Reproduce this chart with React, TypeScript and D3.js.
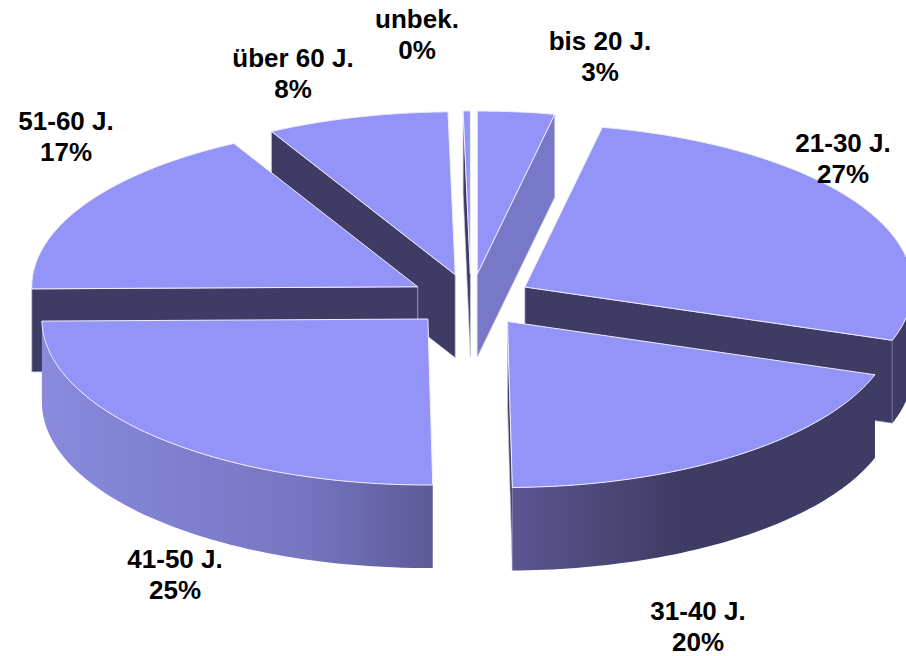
import React from 'react';
import * as d3 from 'd3';

const ageGroups = ['bis 20 J.', '21-30 J.', '31-40 J.', '41-50 J.', '51-60 J.', 'über 60 J.', 'unbek.'];
const shares = [3.2, 27, 19.6, 25, 17.3, 7.6, 0.3];

const W = 906;
const H = 656;
const DEPTH = 83;
const EXPLODE = 0.16;
const FONT = '"Liberation Sans", Arial, sans-serif';

// where the captions sit (middle, first baseline)
const labelSpots = [[600, 50], [843, 152], [698, 620], [175, 568], [66, 130], [293, 67], [417, 28]];

const TOP = '#9494f8';
const DARK = '#3e3c64';
const MID = '#7878c8';

// front and left of the pie are a touch different from back and right (perspective)
const sx = d3.scaleLinear().domain([-1, 0, 1]).range([471 - 386, 471, 471 + 388]);
const sy = d3.scaleLinear().domain([-1, 0, 1]).range([300 + 166, 300, 300 - 163]);

const pie = d3.pie<number>().sort(null).value(d => d);
const line = d3.line<[number, number]>().x(d => d[0]).y(d => d[1]);

const wallStops: [number, string][] = [[0, '#8a8ade'], [0.405, '#7676c2'], [0.61, '#5e5a98'], [0.74, '#5a5690'], [1, DARK]];

export default function App() {
  const slices = pie(shares).map((s, i) => {
    const mid = (s.startAngle + s.endAngle) / 2;
    const ox = EXPLODE * Math.sin(mid);
    const oy = EXPLODE * Math.cos(mid);
    const at = (a: number, r = 1): [number, number] => [sx(ox) + (sx(Math.sin(a)) - sx(0)) * r, sy(oy) + (sy(Math.cos(a)) - sy(0)) * r];
    return { i, a0: s.startAngle, a1: s.endAngle, mid, at };
  });
  const order = d3.sort(slices, s => -Math.cos(s.mid));

  return (
    <svg width={W} height={H} viewBox={`0 0 ${W} ${H}`} style={{ position: 'absolute', left: 0, top: 0, background: '#fff' }}>
      <defs>
        <linearGradient id="wall" gradientUnits="userSpaceOnUse" x1={41} x2={680} y1={0} y2={0}>
          {wallStops.map(([o, c]) => <stop key={o} offset={o} stopColor={c} />)}
        </linearGradient>
      </defs>
      {order.map(s => {
        const apex = s.at(0, 0);
        const arc = (a: number, b: number) => d3.range(0, 61).map(k => s.at(a + ((b - a) * k) / 60));
        const drop = (p: [number, number]): [number, number] => [p[0], p[1] + DEPTH];
        const cut = (a: number) => {
          const rim = s.at(a);
          return line([apex, rim, drop(rim), drop(apex)]) + 'Z';
        };
        const faces: { d: string; fill: string }[] = [];
        // flat cut faces, only the ones turned towards the viewer
        if (Math.sin(s.a0) < 0) faces.push({ d: cut(s.a0), fill: DARK });
        if (Math.sin(s.a1) > 0) faces.push({ d: cut(s.a1), fill: Math.cos(s.a1) > 0.9 ? MID : DARK });
        const w0 = Math.max(s.a0, Math.PI / 2);
        const w1 = Math.min(s.a1, (3 * Math.PI) / 2);
        const top = line([apex, ...arc(s.a0, s.a1)]) + 'Z';
        let wall = '';
        if (w1 > w0) {
          const edge = arc(w0, w1);
          wall = line([...edge, ...edge.map(drop).reverse()]) + 'Z';
        }
        return (
          <g key={s.i}>
            {faces.map((f, k) => <path key={k} d={f.d} fill={f.fill} stroke="#c9c9dc" strokeWidth={0.7} />)}
            {wall && <path d={wall} fill="url(#wall)" />}
            <path d={top} fill={TOP} stroke="#eeeeff" strokeWidth={1} strokeLinejoin="round" />
          </g>
        );
      })}
      {ageGroups.map((g, i) => (
        <text key={g} x={labelSpots[i][0]} y={labelSpots[i][1]} textAnchor="middle" fontFamily={FONT} fontWeight="bold" fontSize={26} fill="#000">
          <tspan x={labelSpots[i][0]}>{g}</tspan>
          <tspan x={labelSpots[i][0]} dy={31}>{`${Math.round(shares[i])}%`}</tspan>
        </text>
      ))}
    </svg>
  );
}
